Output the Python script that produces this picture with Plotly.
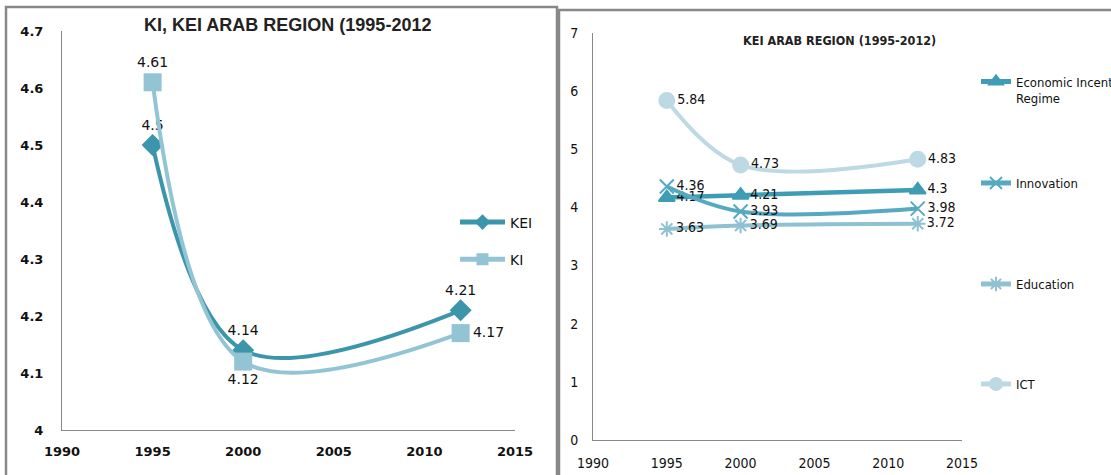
import plotly.graph_objects as go

# Survey years
years = [1995, 2000, 2012]

# Left panel: composite indices
kei = [4.5, 4.14, 4.21]
ki = [4.61, 4.12, 4.17]

# Right panel: KEI pillars
econ_incentive = [4.17, 4.21, 4.3]
innovation = [4.36, 3.93, 3.98]
education = [3.63, 3.69, 3.72]
ict = [5.84, 4.73, 4.83]

W, H = 1111, 475
GRAY = "#888888"
SANS = "DejaVu Sans"
NARROW = "Liberation Sans Narrow, DejaVu Sans Condensed, Roboto Condensed, sans-serif"


def px(x):
    return x / W


def py(y):
    return 1 - y / H


fig = go.Figure()

# ---- left chart ----
fig.add_trace(go.Scatter(
    x=years, y=kei, name="KEI", mode="lines+markers+text",
    line=dict(color="#3C96AB", width=4, shape="spline"),
    marker=dict(symbol="diamond", size=17, color="#3C96AB"),
    text=[f"{v:g}" for v in kei],
    textposition=["top center", "top center", "top center"],
    textfont=dict(family=SANS, size=14, color="#111"),
    xaxis="x", yaxis="y", legend="legend", legendgroup="kei",
))
fig.add_trace(go.Scatter(
    x=years, y=ki, name="KI", mode="lines+markers+text",
    line=dict(color="#93C4D4", width=4, shape="spline"),
    marker=dict(symbol="square", size=18, color="#93C4D4"),
    text=[f"{v:g}" for v in ki],
    textposition=["top center", "bottom center", "middle right"],
    textfont=dict(family=SANS, size=14, color="#111"),
    xaxis="x", yaxis="y", legend="legend", legendgroup="ki",
))

# ---- right chart ----
right_series = [
    ("Economic Incentive<br>Regime", econ_incentive, "#3E9DB5", "triangle-up", 14, 4.5, "legend2"),
    ("Innovation", innovation, "#56A9C1", "x-thin-open", 14, 4, "legend3"),
    ("Education", education, "#8EC1D1", "asterisk-open", 13, 4, "legend4"),
    ("ICT", ict, "#BCD9E4", "circle", 15, 4, "legend5"),
]
for name, vals, color, sym, msize, lw, leg in right_series:
    fig.add_trace(go.Scatter(
        x=years, y=vals, name=name, mode="lines+markers+text",
        line=dict(color=color, width=lw, shape="spline"),
        marker=dict(symbol=sym, size=msize, color=color,
                    line=dict(color=color, width=2)),
        text=[f"{v:g}" for v in vals],
        textposition="middle right",
        textfont=dict(family=NARROW, size=14, color="#111"),
        xaxis="x2", yaxis="y2", legend=leg,
    ))

axis_common = dict(showgrid=False, zeroline=False, showline=True,
                   linecolor=GRAY, linewidth=1, ticks="")

legend_common = dict(bgcolor="rgba(0,0,0,0)", itemsizing="constant",
                     xanchor="left", yanchor="middle", valign="top",
                     tracegroupgap=0)

LEG_FONT = dict(family=NARROW, size=13, color="#111")

fig.update_layout(
    width=W, height=H,
    margin=dict(l=0, r=0, t=0, b=0, autoexpand=False),
    paper_bgcolor="white", plot_bgcolor="white",
    xaxis=dict(axis_common, domain=[px(62), px(515)], range=[1990, 2015], dtick=5,
               tickfont=dict(family=SANS, size=13, color="#111", weight="bold"),
               ticklabelstandoff=9, anchor="y"),
    yaxis=dict(axis_common, domain=[py(430), py(31)], range=[4, 4.7], dtick=0.1,
               tickfont=dict(family=SANS, size=13, color="#111", weight="bold"),
               ticklabelstandoff=15, anchor="x"),
    xaxis2=dict(axis_common, domain=[px(593), px(962)], range=[1990, 2015], dtick=5,
                tickfont=dict(family=NARROW, size=14, color="#111"),
                ticklabelstandoff=10, anchor="y2"),
    yaxis2=dict(axis_common, domain=[py(440), py(33)], range=[0, 7], dtick=1,
                tickfont=dict(family=NARROW, size=14, color="#111"),
                ticklabelstandoff=11, anchor="x2"),
    showlegend=True,
    legend=dict(legend_common, x=px(455), y=py(241), itemwidth=45,
                font=dict(family=SANS, size=14, color="#111"), tracegroupgap=16),
    legend2=dict(legend_common, x=px(976), y=py(90), font=LEG_FONT),
    legend3=dict(legend_common, x=px(976), y=py(183), font=LEG_FONT),
    legend4=dict(legend_common, x=px(976), y=py(284), font=LEG_FONT),
    legend5=dict(legend_common, x=px(976), y=py(384), font=LEG_FONT),
    annotations=[
        dict(text="<b>KI, KEI ARAB REGION (1995-2012</b>", x=px(287), y=py(25),
             xref="paper", yref="paper", showarrow=False,
             xanchor="center", yanchor="middle",
             font=dict(family="Liberation Sans", size=18, color="#222")),
        dict(text="<b>KEI ARAB REGION (1995-2012)</b>", x=px(839), y=py(40),
             xref="paper", yref="paper", showarrow=False,
             xanchor="center", yanchor="middle",
             font=dict(family=NARROW, size=12.5, color="#222")),
    ],
    shapes=[
        # panel frames
        dict(type="path", xref="paper", yref="paper",
             path=f"M {px(6)},0 L {px(6)},{py(7)} L {px(557)},{py(7)} L {px(557)},0",
             line=dict(color=GRAY, width=2.5)),
        dict(type="path", xref="paper", yref="paper",
             path=f"M {px(559)},0 L {px(559)},{py(10)} L 1,{py(10)}",
             line=dict(color=GRAY, width=2.5)),
    ],
)

fig.write_html("out.html")
